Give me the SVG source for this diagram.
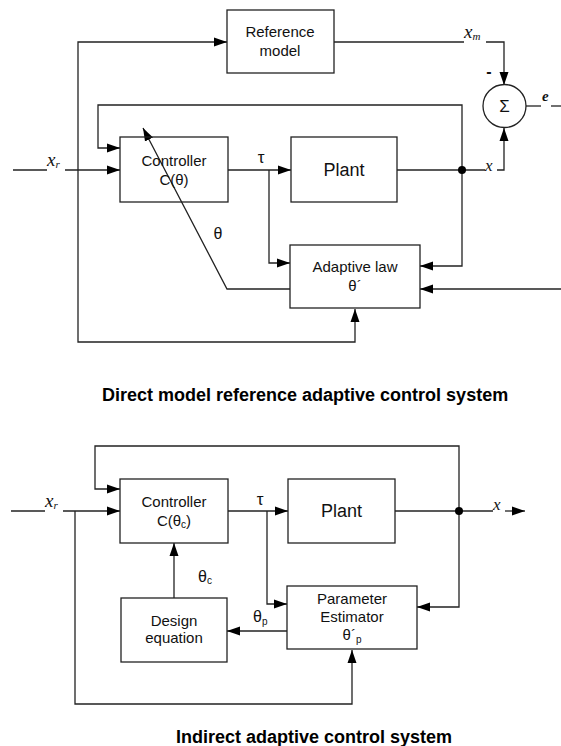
<svg xmlns="http://www.w3.org/2000/svg" width="561" height="746" viewBox="0 0 561 746">
  <style>
    .box { fill: none; stroke: #222; stroke-width: 1.3; }
    .ln { fill: none; stroke: #222; stroke-width: 1.3; }
    .arr { marker-end: url(#head); }
    .lbl { font-family: "Liberation Sans", Arial, sans-serif; font-size: 15px; fill: #111; text-anchor: middle; }
    .big { font-size: 18px; }
    .greek { font-family: "Liberation Sans", Arial, sans-serif; font-size: 16px; fill: #111; }
    .math { font-family: "Liberation Serif", "Times New Roman", serif; font-style: italic; font-size: 19px; fill: #111; }
    .title { font-family: "Liberation Sans", Arial, sans-serif; font-size: 18px; font-weight: bold; fill: #000; }
    .dot { fill: #000; }
  </style>
  <defs>
    <marker id="head" markerUnits="userSpaceOnUse" markerWidth="14" markerHeight="10" refX="13" refY="5" orient="auto">
      <path d="M0,0.5 L13,5 L0,9.5 z" fill="#000"/>
    </marker>
  </defs>

  <!-- ===== Direct model reference adaptive control ===== -->
  <g id="connectors-direct">
    <path class="ln arr" d="M78,170 V42 H227"/>
    <path class="ln arr" d="M78,170 V342 H355 V309"/>
    <path class="ln" d="M13,170 H47"/>
    <path class="ln arr" d="M65,170 H120"/>
    <path class="ln arr" d="M462,170 V105 H98 V148 H120"/>
    <path class="ln arr" d="M228,170 H291"/>
    <path class="ln arr" d="M269,170 V263 H290"/>
    <path class="ln" d="M397,170 H485"/>
    <path class="ln arr" d="M497,170 H504 V128"/>
    <path class="ln arr" d="M462,170 V266 H420"/>
    <path class="ln arr" d="M561,289 H420"/>
    <!-- adjustment arrow crossing the controller -->
    <path class="ln arr" d="M290,289 H227 L143,128"/>
    <path class="ln" d="M334,42 H464"/>
    <path class="ln arr" d="M486,42 H504 V85"/>
    <path class="ln" d="M526,106 H541"/>
    <path class="ln" d="M551,106 H561"/>
    <circle class="dot" cx="462" cy="170" r="4"/>
  </g>

  <g id="refmodel">
    <rect class="box" x="227" y="10" width="107" height="63"/>
    <text class="lbl" x="280" y="37">Reference</text>
    <text class="lbl" x="280" y="56">model</text>
  </g>

  <g id="controller1">
    <rect class="box" x="120" y="137" width="108" height="65"/>
    <text class="lbl" x="174" y="166">Controller</text>
    <text class="lbl" x="174" y="185">C(θ)</text>
  </g>

  <g id="plant1">
    <rect class="box" x="291" y="137" width="106" height="65"/>
    <text class="lbl big" x="344" y="176">Plant</text>
  </g>

  <g id="adaptive-law">
    <rect class="box" x="290" y="245" width="130" height="63"/>
    <text class="lbl" x="355" y="272">Adaptive law</text>
    <text class="lbl" x="355" y="291">θ´</text>
  </g>

  <g id="sum">
    <circle cx="504.5" cy="106" r="21.5" fill="#fff" stroke="#222" stroke-width="1.3"/>
    <text class="lbl" x="504.5" y="112" style="font-size:17px">Σ</text>
    <text class="lbl" x="489" y="77" style="font-size:16px;font-weight:bold">-</text>
  </g>

  <g id="labels-direct">
    <text class="math" x="47" y="166">x<tspan font-size="11" dy="2">r</tspan></text>
    <text class="math" x="464" y="38">x<tspan font-size="11" dy="2">m</tspan></text>
    <text class="math" x="485" y="171" style="font-size:17px">x</text>
    <text class="math" x="542" y="101" style="font-size:15px;font-weight:bold">e</text>
    <text class="greek" x="261" y="163" text-anchor="middle" style="font-size:17px">τ</text>
    <text class="greek" x="218" y="239" text-anchor="middle">θ</text>
    <text class="title" x="102" y="401">Direct model reference adaptive control system</text>
  </g>

  <!-- ===== Indirect adaptive control ===== -->
  <g id="connectors-indirect">
    <path class="ln" d="M11,511 H45"/>
    <path class="ln arr" d="M63,511 H120"/>
    <path class="ln arr" d="M75,511 V704 H352 V650"/>
    <path class="ln arr" d="M459,511 V446 H95 V489 H120"/>
    <path class="ln arr" d="M228,511 H288"/>
    <path class="ln arr" d="M267,511 V604 H287"/>
    <path class="ln" d="M395,511 H493"/>
    <path class="ln arr" d="M505,511 H525"/>
    <path class="ln arr" d="M459,511 V607 H417"/>
    <path class="ln arr" d="M287,631 H227"/>
    <path class="ln arr" d="M174,598 V543"/>
    <circle class="dot" cx="459" cy="511" r="4"/>
  </g>

  <g id="controller2">
    <rect class="box" x="120" y="479" width="108" height="64"/>
    <text class="lbl" x="174" y="507">Controller</text>
    <text class="lbl" x="174" y="526">C(θ<tspan font-size="10" dy="2">c</tspan><tspan dy="-2">)</tspan></text>
  </g>

  <g id="plant2">
    <rect class="box" x="288" y="479" width="107" height="64"/>
    <text class="lbl big" x="341.5" y="517">Plant</text>
  </g>

  <g id="design-equation">
    <rect class="box" x="121" y="598" width="106" height="64"/>
    <text class="lbl" x="174" y="626">Design</text>
    <text class="lbl" x="174" y="643">equation</text>
  </g>

  <g id="param-estimator">
    <rect class="box" x="287" y="586" width="130" height="63"/>
    <text class="lbl" x="352" y="604">Parameter</text>
    <text class="lbl" x="352" y="622">Estimator</text>
    <text class="lbl" x="352" y="640">θ´<tspan font-size="10" dy="3">p</tspan></text>
  </g>

  <g id="labels-indirect">
    <text class="math" x="45" y="507">x<tspan font-size="11" dy="2">r</tspan></text>
    <text class="math" x="493" y="510" style="font-size:17px">x</text>
    <text class="greek" x="260" y="505" text-anchor="middle" style="font-size:17px">τ</text>
    <text class="greek" x="198" y="582">θ<tspan font-size="10" dy="2">c</tspan></text>
    <text class="greek" x="253" y="622">θ<tspan font-size="10" dy="3">p</tspan></text>
    <text class="title" x="176" y="743">Indirect adaptive control system</text>
  </g>
</svg>
